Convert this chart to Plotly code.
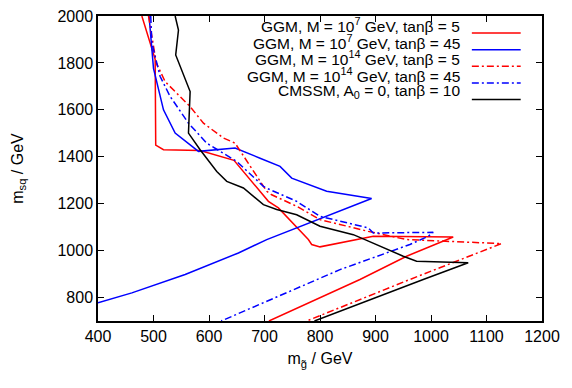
import plotly.graph_objects as go

# GGM, M = 1e7 GeV, tanb = 5
ggm7_t5_x = [479, 494, 503, 504, 518, 584, 645, 707, 725, 779, 785, 800, 896, 1040, 956, 872, 708]
ggm7_t5_y = [2000, 1885, 1815, 1450, 1430, 1427, 1385, 1210, 1182, 1047, 1026, 1016, 1061, 1058, 976, 877, 700]

# GGM, M = 1e7 GeV, tanb = 45
ggm7_t45_x = [492, 500, 518, 539, 581, 647, 692, 728, 749, 812, 893, 812, 704, 653, 557, 461, 400]
ggm7_t45_y = [2000, 1777, 1600, 1501, 1423, 1437, 1394, 1359, 1309, 1253, 1222, 1146, 1047, 990, 898, 820, 778]

# GGM, M = 1e14 GeV, tanb = 5
ggm14_t5_x = [491, 505, 521, 566, 590, 626, 647, 704, 713, 758, 800, 887, 956, 1034, 1127, 962, 776]
ggm14_t5_y = [2000, 1800, 1720, 1614, 1543, 1480, 1458, 1253, 1238, 1189, 1132, 1082, 1047, 1040, 1030, 877, 700]

# GGM, M = 1e14 GeV, tanb = 45
ggm14_t45_x = [495, 497, 512, 530, 563, 596, 650, 698, 705, 758, 800, 887, 896, 1004, 995, 962, 836, 622]
ggm14_t45_y = [2000, 1884, 1742, 1657, 1543, 1458, 1380, 1274, 1265, 1210, 1146, 1097, 1075, 1078, 1061, 1026, 919, 700]

# CMSSM, A0 = 0, tanb = 10
cmssm_x = [539, 545, 540, 566, 563, 584, 614, 632, 662, 698, 722, 758, 800, 860, 881, 950, 974, 1022, 1067, 986, 962, 790]
cmssm_y = [2000, 1940, 1834, 1678, 1501, 1430, 1337, 1295, 1267, 1196, 1175, 1153, 1104, 1068, 1047, 976, 955, 950, 948, 877, 855, 700]

labels = [
    "GGM, M = 10<sup>7</sup> GeV, tanβ = 5",
    "GGM, M = 10<sup>7</sup> GeV, tanβ = 45",
    "GGM, M = 10<sup>14</sup> GeV, tanβ = 5",
    "GGM, M = 10<sup>14</sup> GeV, tanβ = 45",
    "CMSSM, A<sub>0</sub> = 0, tanβ = 10",
]

DASHDOT = "7px,3px,2px,3px"
series = [
    (ggm7_t5_x, ggm7_t5_y, "#ff0000", "solid"),
    (ggm7_t45_x, ggm7_t45_y, "#0000ff", "solid"),
    (ggm14_t5_x, ggm14_t5_y, "#ff0000", DASHDOT),
    (ggm14_t45_x, ggm14_t45_y, "#0000ff", DASHDOT),
    (cmssm_x, cmssm_y, "#000000", "solid"),
]

fig = go.Figure()
for (x, y, c, d), name in zip(series, labels):
    fig.add_trace(go.Scatter(x=x, y=y, mode="lines", name=name,
                             line=dict(color=c, width=1.5, dash=d), showlegend=False))

# gnuplot style key: text right aligned, line sample on the right
for i, ((x, y, c, d), name) in enumerate(zip(series, labels)):
    yp = 0.944 - i * 0.0545
    fig.add_annotation(x=0.82, y=yp, xref="paper", yref="paper", text=name,
                       showarrow=False, xanchor="right", yanchor="middle", yshift=8,
                       font=dict(size=15.5, color="black"))
    fig.add_shape(type="line", xref="paper", yref="paper", x0=0.842, x1=0.952,
                  y0=yp, y1=yp, line=dict(color=c, width=1.5, dash=d))

axis = dict(showgrid=False, zeroline=False, showline=True, linecolor="black", linewidth=1.5,
            mirror="ticks", ticks="inside", ticklen=6, tickcolor="black", tickwidth=1.2,
            tickfont=dict(size=16, color="black"), automargin=False, ticklabeloverflow="allow")

fig.update_xaxes(range=[400, 1200], dtick=100, tick0=400,
                 title=dict(text="m<sub>g̃</sub> / GeV", font=dict(size=16, color="black"), standoff=9),
                 **axis)
fig.update_yaxes(range=[700, 2000], dtick=200, tick0=800,
                 title=dict(text="m<sub>sq</sub> / GeV", font=dict(size=16, color="black"), standoff=30),
                 **axis)

# page body has an 8px margin, so the figure is a bit smaller than the window
fig.update_layout(width=564, height=380, margin=dict(l=90, r=30, t=8, b=67),
                  plot_bgcolor="white", paper_bgcolor="white",
                  font=dict(family="Liberation Sans, Arial, sans-serif"))

fig.write_html("out.html")
